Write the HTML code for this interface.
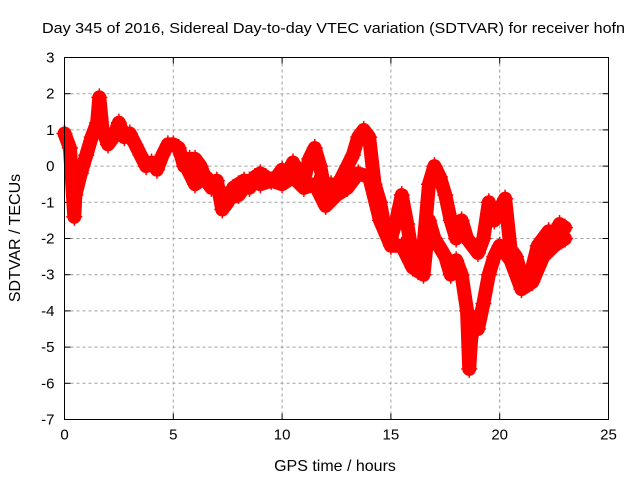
<!DOCTYPE html>
<html><head><meta charset="utf-8"><style>
body{margin:0;background:#fff;}
svg{display:block;font-family:"Liberation Sans",sans-serif;}
</style></head><body>
<svg id="chart" width="640" height="480">
<text x="42" y="33" font-size="15" textLength="583" lengthAdjust="spacingAndGlyphs" fill="#000">Day 345 of 2016, Sidereal Day-to-day VTEC variation (SDTVAR) for receiver hofn</text>
<text x="335" y="471" font-size="16" text-anchor="middle">GPS time / hours</text>
<text transform="translate(20,238) rotate(-90)" font-size="16" text-anchor="middle">SDTVAR / TECUs</text>
<g id="grid"></g><g id="ticks"></g><g id="marks"></g>
<rect x="64.5" y="57.5" width="544" height="362" fill="none" stroke="#000" stroke-width="1"/>
</svg>
<script>
const xTicks=[0,5,10,15,20,25];
const yTicks=[3,2,1,0,-1,-2,-3,-4,-5,-6,-7];
const timeA=[0,0.25,0.45,0.5,0.75,1,1.25,1.5,1.6,1.75,2,2.25,2.5,2.75,3,3.25,3.5,3.75,4,4.25,4.5,4.75,5,5.25,5.5,5.75,6,6.25,6.5,6.75,7,7.25,7.5,7.75,8,8.25,8.5,8.75,9,9.25,9.5,9.75,10,10.25,10.5,10.75,11,11.25,11.5,11.75,12,12.25,12.5,12.75,13,13.25,13.5,13.75,14,14.25,14.5,14.75,15,15.25,15.5,15.75,16,16.25,16.5,16.75,17,17.25,17.5,17.75,18,18.25,18.5,18.75,19,19.25,19.5,19.75,20,20.25,20.5,20.75,21,21.25,21.5,21.75,22,22.25,22.5,22.75,23];
const valuesA=[0.9,0.5,-1.4,-0.8,-0.2,0.3,0.8,1.2,1.9,1.0,0.6,0.8,1.2,0.8,0.9,0.6,0.3,0.0,0.1,-0.1,0.3,0.6,0.6,0.5,0.0,0.2,0.2,0.0,-0.4,-0.6,-0.4,-1.2,-1.0,-0.6,-0.5,-0.4,-0.6,-0.3,-0.2,-0.3,-0.4,-0.3,-0.1,-0.3,0.1,-0.2,-0.4,0.2,0.5,0.0,-0.8,-0.5,-0.6,-0.3,0.0,0.3,0.8,1.0,0.8,-0.5,-1.0,-1.8,-2.0,-1.5,-0.8,-1.6,-2.5,-2.9,-2.2,-0.5,0.0,-0.3,-0.8,-1.5,-2.0,-1.5,-2.0,-2.2,-2.4,-2.0,-1.0,-1.5,-1.2,-0.9,-2.3,-2.5,-3.0,-3.2,-2.8,-2.2,-2.0,-1.8,-1.9,-1.6,-1.7];
const timeB=[5.5,6,6.5,7,7.5,8,8.5,9,9.5,10,10.5,11,11.5,12,12.5,13,13.5,14,14.5,15,15.5,16,16.5,16.75,17,17.5,17.75,18,18.25,18.5,18.6,18.75,19,19.25,19.5,19.75,20,20.5,21,21.5,22,22.5,23];
const valuesB=[0.1,-0.5,-0.3,-0.6,-0.9,-0.8,-0.4,-0.5,-0.4,-0.5,-0.3,-0.6,-0.5,-1.1,-0.8,-0.6,-0.2,-0.3,-1.5,-2.2,-2.2,-2.8,-3.0,-1.5,-2.0,-2.5,-3.0,-2.6,-3.0,-4.0,-5.6,-4.2,-4.5,-3.8,-3.0,-2.5,-2.2,-2.6,-3.4,-3.2,-2.5,-2.2,-2.0];
const NS="http://www.w3.org/2000/svg";
const L=64.5,R=608.5,T=57.5,B=419.5;
function xs(v){return L+(v-0)/(25-0)*(R-L);}
function ys(v){return B-(v+7)/(3+7)*(B-T);}
function mk(tag,attrs,parent){const e=document.createElementNS(NS,tag);for(const k in attrs)e.setAttribute(k,attrs[k]);parent.appendChild(e);return e;}
const grid=document.getElementById('grid'),ticks=document.getElementById('ticks'),marks=document.getElementById('marks');
xTicks.forEach(t=>{const x=xs(t);
 if(t>0&&t<25){const g=mk('line',{x1:x,x2:x,y1:T,y2:B,stroke:'#a0a0a0','stroke-dasharray':'3,3'},grid);
 
 }
 mk('line',{x1:x,x2:x,y1:B,y2:B-6,stroke:'#000'},ticks);mk('line',{x1:x,x2:x,y1:T,y2:T+6,stroke:'#000'},ticks);
 const tx=mk('text',{x:x,y:B+20,'font-size':15,'text-anchor':'middle'},ticks);tx.textContent=t;
 
 });
yTicks.forEach(t=>{const y=ys(t);
 if(t>-7&&t<3){const g=mk('line',{x1:L,x2:R,y1:y,y2:y,stroke:'#a0a0a0','stroke-dasharray':'3,3'},grid);
 
 }
 mk('line',{x1:L,x2:L+6,y1:y,y2:y,stroke:'#000'},ticks);mk('line',{x1:R,x2:R-6,y1:y,y2:y,stroke:'#000'},ticks);
 const tx=mk('text',{x:L-10,y:y+5,'font-size':15,'text-anchor':'end'},ticks);tx.textContent=t;
 
 });
function series(tA,vA,name){
 const pts=tA.map((t,i)=>xs(t)+','+ys(vA[i])).join(' ');
 const pl=mk('polyline',{points:pts,fill:'none',stroke:'#ff0000','stroke-width':14,'stroke-linejoin':'round','stroke-linecap':'round'},marks);
 
 
 tA.forEach((t,i)=>{const x=xs(t),y=ys(vA[i]);
  const p=mk('path',{d:`M${x-8},${y}h16M${x},${y-9}v18`,stroke:'#ff0000','stroke-width':1.5},marks);
  
  });
}
series(timeB,valuesB,'series-lower-track');
series(timeA,valuesA,'series-upper-track');
</script>
</body></html>
